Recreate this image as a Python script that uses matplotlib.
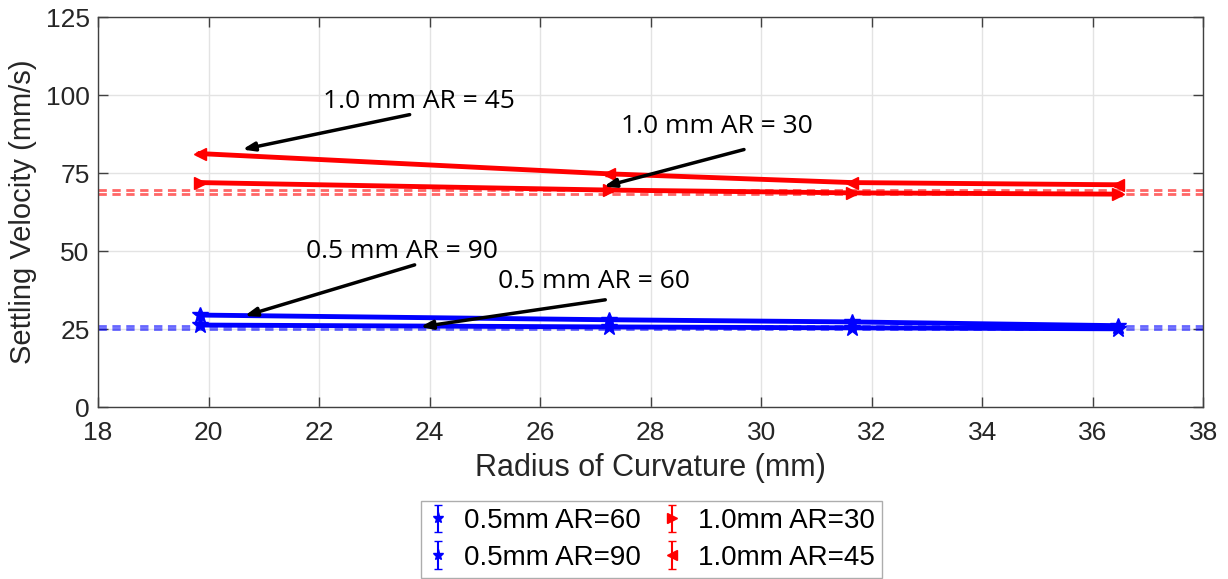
import matplotlib
matplotlib.use("Agg")
import matplotlib.pyplot as plt
import numpy as np

plt.rcParams['font.family'] = ['Liberation Sans', 'DejaVu Sans']

# Radius of curvature (mm) for each tested channel
radius = [19.85, 27.25, 31.65, 36.45]

# Settling velocities (mm/s)
v_05_ar60 = [26.3, 25.7, 25.4, 25.1]
v_05_ar90 = [29.5, 28.0, 27.3, 26.1]
v_10_ar30 = [72.0, 69.6, 68.7, 68.3]
v_10_ar45 = [81.3, 74.8, 72.0, 71.3]

# Straight-channel reference velocities (mm/s)
ref_05_ar60 = 25.0
ref_05_ar90 = 26.0
ref_10_ar30 = 68.3
ref_10_ar45 = 69.6

# Small measurement uncertainty (mm/s)
err = 0.6

xlabel = "Radius of Curvature (mm)"
ylabel = "Settling Velocity (mm/s)"
xticks = list(range(18, 39, 2))
yticks = [0, 25, 50, 75, 100, 125]

fig = plt.figure(figsize=(12.28, 5.79), dpi=100)
ax = fig.add_axes([0.0798, 0.297, 0.900, 0.673])

series = [
    (v_05_ar60, 'blue', '*', "0.5mm AR=60"),
    (v_05_ar90, 'blue', '*', "0.5mm AR=90"),
    (v_10_ar30, 'red', '>', "1.0mm AR=30"),
    (v_10_ar45, 'red', '<', "1.0mm AR=45"),
]
handles = []
for vals, col, mk, lab in series:
    ax.errorbar(radius, vals, yerr=err, color=col, marker=mk,
                markersize=12 if mk == '*' else 9, lw=3.5,
                capsize=3, elinewidth=1.5, zorder=3)
    # legend proxy: bar with caps and a small marker, no connecting line
    h = ax.errorbar([np.nan], [np.nan], yerr=[1], color=col, marker=mk,
                    markersize=8 if mk == '*' else 7, ls='none',
                    capsize=3, elinewidth=1.5, label=lab)
    handles.append(h)

for ref, col in [(ref_05_ar60, 'blue'), (ref_05_ar90, 'blue'),
                 (ref_10_ar30, 'red'), (ref_10_ar45, 'red')]:
    ax.axhline(ref, color=col, ls=(0, (3, 2)), lw=2, alpha=0.6, zorder=2)

ax.set_xlim(18, 38)
ax.set_ylim(0, 125)
ax.set_xticks(xticks)
ax.set_yticks(yticks)
ax.grid(True, color='#e3e3e3', lw=1)
ax.set_axisbelow(True)
ax.tick_params(direction='in', top=True, right=True, length=7,
               width=1, colors='#404040', labelcolor='#262626',
               labelsize=19)
ax.tick_params(axis='x', pad=10)
ax.tick_params(axis='y', pad=6)
for s in ax.spines.values():
    s.set_color('#404040')
    s.set_linewidth(1)

ax.set_xlabel(xlabel, fontsize=22, color='#262626', labelpad=6)
ax.set_ylabel(ylabel, fontsize=21, color='#262626', labelpad=6)

# Annotations identifying each curved-channel series
notes = [
    ("1.0 mm AR = 45", (20.61, 82.6), (22.07, 98.0), (23.64, 93.8)),
    ("1.0 mm AR = 30", (27.15, 70.7), (27.46, 90.0), (29.69, 82.6)),
    ("0.5 mm AR = 90", (20.65, 29.2), (21.77, 49.8), (23.73, 45.6)),
    ("0.5 mm AR = 60", (23.83, 25.7), (25.24, 40.2), (27.18, 34.4)),
]
for txt, head, tpos, tail in notes:
    ax.text(tpos[0], tpos[1], txt, fontsize=19, family=['Open Sans', 'DejaVu Sans'],
            va='center', ha='left', color='black', zorder=5)
    ax.annotate("", xy=head, xytext=tail,
                arrowprops=dict(arrowstyle='-|>,head_length=0.7,head_width=0.25',
                                color='black', lw=2.5, shrinkA=0, shrinkB=0),
                zorder=5)

leg = fig.legend(handles=handles, loc='lower center', ncol=2,
                 bbox_to_anchor=(0.5305, 0.0), fontsize=20,
                 frameon=True, fancybox=False, edgecolor='#999999',
                 handlelength=0.7, handletextpad=0.6, columnspacing=0.75,
                 labelspacing=0.38, borderpad=0.25, borderaxespad=0.05)
leg.get_frame().set_linewidth(1)

fig.savefig("out.png", dpi=100, facecolor='white')
